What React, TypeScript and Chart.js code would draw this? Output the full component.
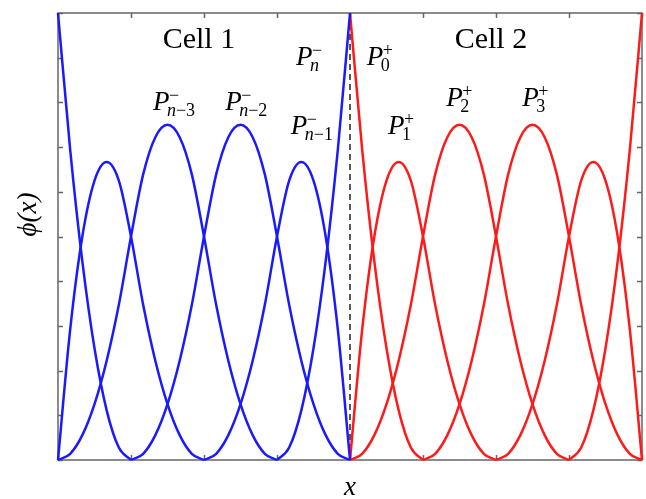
import React, { useEffect, useRef } from "react";
import { Chart, registerables } from "chart.js";

Chart.register(...registerables);

// Sample grid across each cell (steps of 1/6)
const GRID_CELL1 = [
  0, 0.1667, 0.3333, 0.5, 0.6667, 0.8333, 1, 1.1667, 1.3333, 1.5, 1.6667, 1.8333, 2,
  2.1667, 2.3333, 2.5, 2.6667, 2.8333, 3, 3.1667, 3.3333, 3.5, 3.6667, 3.8333, 4,
];
const GRID_CELL2 = [
  4, 4.1667, 4.3333, 4.5, 4.6667, 4.8333, 5, 5.1667, 5.3333, 5.5, 5.6667, 5.8333, 6,
  6.1667, 6.3333, 6.5, 6.6667, 6.8333, 7, 7.1667, 7.3333, 7.5, 7.6667, 7.8333, 8,
];

// Quadratic basis functions sampled on the grid (null = outside support)
const _ = null;
const BASIS_0 = [1, 0.6944, 0.4444, 0.25, 0.1111, 0.0278, 0, _, _, _, _, _, _, _, _, _, _, _, _, _, _, _, _, _, _];
const BASIS_1 = [0, 0.2917, 0.5, 0.625, 0.6667, 0.625, 0.5, 0.3472, 0.2222, 0.125, 0.0556, 0.0139, 0, _, _, _, _, _, _, _, _, _, _, _, _];
const BASIS_2 = [0, 0.0139, 0.0556, 0.125, 0.2222, 0.3472, 0.5, 0.6389, 0.7222, 0.75, 0.7222, 0.6389, 0.5, 0.3472, 0.2222, 0.125, 0.0556, 0.0139, 0, _, _, _, _, _, _];
const BASIS_3 = [_, _, _, _, _, _, 0, 0.0139, 0.0556, 0.125, 0.2222, 0.3472, 0.5, 0.6389, 0.7222, 0.75, 0.7222, 0.6389, 0.5, 0.3472, 0.2222, 0.125, 0.0556, 0.0139, 0];
const BASIS_4 = [_, _, _, _, _, _, _, _, _, _, _, _, 0, 0.0139, 0.0556, 0.125, 0.2222, 0.3472, 0.5, 0.625, 0.6667, 0.625, 0.5, 0.2917, 0];
const BASIS_5 = [_, _, _, _, _, _, _, _, _, _, _, _, _, _, _, _, _, _, 0, 0.0278, 0.1111, 0.25, 0.4444, 0.6944, 1];

const CELL1_SERIES = [BASIS_0, BASIS_1, BASIS_2, BASIS_3, BASIS_4, BASIS_5];
const CELL2_SERIES = [BASIS_0, BASIS_1, BASIS_2, BASIS_3, BASIS_4, BASIS_5];

const X_TICKS = [0, 1, 2, 3, 4, 5, 6, 7, 8];
const Y_TICKS = [0, 0.1, 0.2, 0.3, 0.4, 0.5, 0.6, 0.7, 0.8, 0.9, 1];
const INTERFACE_X = 4;

const CELL_TITLES = ["Cell 1", "Cell 2"];
const CELL_TITLE_X = [1.93, 5.93];
const CELL_TITLE_Y = 0.922;

// Basis labels: subscript pieces [text, italic], superscript sign, anchor (data units)
type Piece = [string, boolean];
const LABEL_SUBS: Piece[][] = [
  [["n", true], ["\u22123", false]],
  [["n", true], ["\u22122", false]],
  [["n", true], ["\u22121", false]],
  [["n", true]],
  [["0", false]],
  [["1", false]],
  [["2", false]],
  [["3", false]],
];
const LABEL_SUPS = ["\u2212", "\u2212", "\u2212", "\u2212", "+", "+", "+", "+"];
const LABEL_X = [1.3, 2.29, 3.19, 3.26, 4.23, 4.52, 5.32, 6.36];
const LABEL_Y = [0.783, 0.783, 0.729, 0.884, 0.884, 0.729, 0.792, 0.792];

const SERIF = '"Liberation Serif", "Times New Roman", serif';

const decorPlugin = {
  id: "decor",
  beforeDatasetsDraw(chart: any) {
    const { ctx, chartArea: a, scales } = chart;
    const xs = scales.x;
    const ys = scales.y;
    ctx.save();
    // frame
    ctx.strokeStyle = "#666";
    ctx.lineWidth = 1.5;
    ctx.strokeRect(a.left, a.top, a.right - a.left, a.bottom - a.top);
    // inward ticks on all sides
    const tick = 5;
    ctx.beginPath();
    for (const v of X_TICKS) {
      const px = Math.round(xs.getPixelForValue(v)) + 0.5;
      ctx.moveTo(px, a.bottom);
      ctx.lineTo(px, a.bottom - tick);
      ctx.moveTo(px, a.top);
      ctx.lineTo(px, a.top + tick);
    }
    for (const v of Y_TICKS) {
      const py = Math.round(ys.getPixelForValue(v)) + 0.5;
      ctx.moveTo(a.left, py);
      ctx.lineTo(a.left + tick, py);
      ctx.moveTo(a.right, py);
      ctx.lineTo(a.right - tick, py);
    }
    ctx.stroke();
    // dashed interface between the cells
    const xi = xs.getPixelForValue(INTERFACE_X);
    ctx.strokeStyle = "#222";
    ctx.lineWidth = 1.5;
    ctx.setLineDash([6, 4]);
    ctx.beginPath();
    ctx.moveTo(xi, ys.getPixelForValue(0));
    ctx.lineTo(xi, ys.getPixelForValue(1));
    ctx.stroke();
    ctx.restore();
  },
  afterDraw(chart: any) {
    const { ctx, chartArea: a, scales } = chart;
    const xs = scales.x;
    const ys = scales.y;
    ctx.save();
    ctx.fillStyle = "#000";
    ctx.textBaseline = "alphabetic";

    // cell titles
    ctx.font = `30px ${SERIF}`;
    ctx.textAlign = "center";
    CELL_TITLES.forEach((t, i) => {
      ctx.fillText(t, xs.getPixelForValue(CELL_TITLE_X[i]), ys.getPixelForValue(CELL_TITLE_Y));
    });

    // basis labels
    ctx.textAlign = "left";
    LABEL_SUBS.forEach((sub, i) => {
      const px = xs.getPixelForValue(LABEL_X[i]);
      const py = ys.getPixelForValue(LABEL_Y[i]);
      ctx.font = `italic 27px ${SERIF}`;
      ctx.fillText("P", px, py);
      let sx = px + 14;
      for (const [txt, it] of sub) {
        ctx.font = `${it ? "italic " : ""}18px ${SERIF}`;
        ctx.fillText(txt, sx, py + 6);
        sx += ctx.measureText(txt).width;
      }
      ctx.font = `18px ${SERIF}`;
      ctx.fillText(LABEL_SUPS[i], px + 16, py - 9);
    });

    // axis titles
    ctx.font = `italic 27px ${SERIF}`;
    ctx.textAlign = "center";
    ctx.fillText("x", (a.left + a.right) / 2, 495);
    ctx.translate(36, (a.top + a.bottom) / 2 - 22);
    ctx.rotate(-Math.PI / 2);
    ctx.fillText("\u03d5(x)", 0, 0);
    ctx.restore();
  },
};

function toPoints(grid: number[], vals: (number | null)[]) {
  return grid.map((x, i) => ({ x, y: vals[i] }));
}

export default function App() {
  const ref = useRef<HTMLCanvasElement | null>(null);

  useEffect(() => {
    if (!ref.current) return;
    const mk = (grid: number[], vals: (number | null)[], color: string) => ({
      data: toPoints(grid, vals),
      borderColor: color,
      borderWidth: 2.5,
      pointRadius: 0,
      cubicInterpolationMode: "monotone" as const,
      spanGaps: false,
      clip: false as const,
      fill: false,
    });
    const datasets = [
      ...CELL1_SERIES.map((s) => mk(GRID_CELL1, s, "#1a1aff")),
      ...CELL2_SERIES.map((s) => mk(GRID_CELL2, s, "#ff1a1a")),
    ];
    const chart = new Chart(ref.current, {
      type: "line",
      data: { datasets },
      options: {
        animation: false,
        responsive: false,
        devicePixelRatio: 1,
        parsing: { xAxisKey: "x", yAxisKey: "y" },
        layout: { padding: { left: 58, right: 4, top: 13, bottom: 39 } },
        plugins: { legend: { display: false }, tooltip: { enabled: false } },
        scales: {
          x: { type: "linear", min: 0, max: 8, display: false },
          y: { type: "linear", min: 0, max: 1, display: false },
        },
      },
      plugins: [decorPlugin],
    });
    return () => chart.destroy();
  }, []);

  return (
    <div style={{ position: "absolute", left: 0, top: 0, width: 646, height: 499, background: "#fff" }}>
      <canvas ref={ref} width={646} height={499} />
    </div>
  );
}
